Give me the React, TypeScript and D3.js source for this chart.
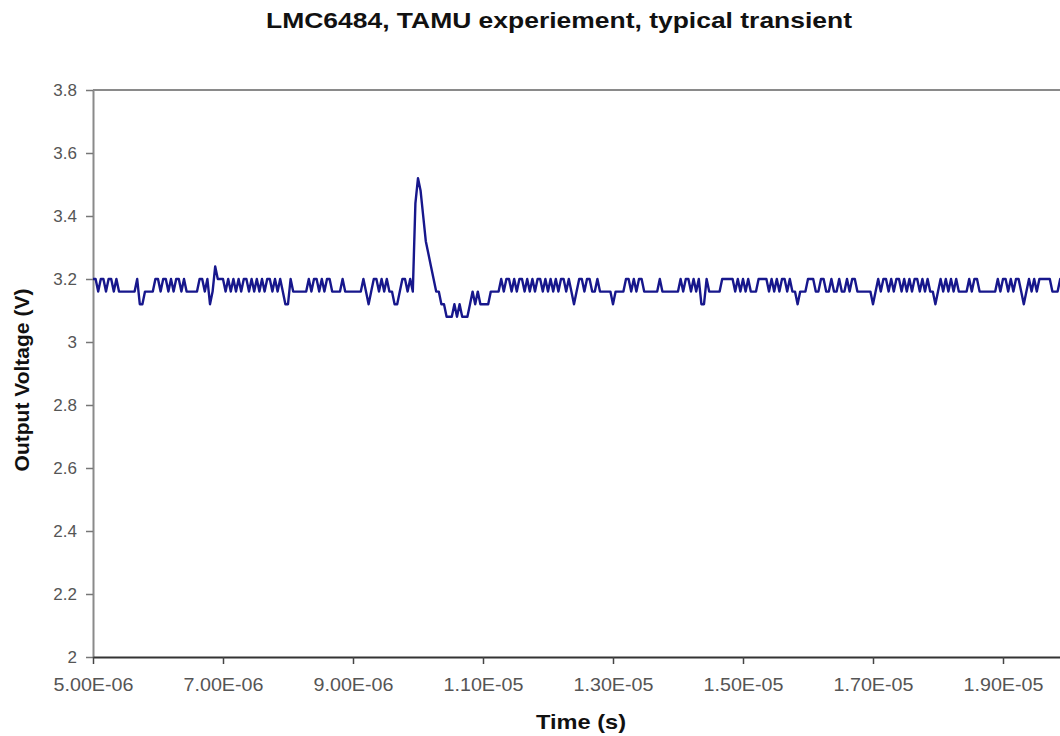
import React, { useEffect, useRef } from 'react';
import * as d3 from 'd3';

// Scope trace, one character per sample, 0.04 us apart,
// starting at 5.00E-06 s. Each character is an ADC step of 0.04 V above 3.08 V
// ('0' = 3.08 V, '2' = 3.16 V, '4' = 3.24 V ... 'b' = 3.52 V at the spike top).
const traceStart = 5e-6;
const sampleStep = 4e-8;
const levelBase = 3.08;
const levelStep = 0.04;

// one string per 2 us of the time axis
const traceSegments: string[] = [
  '33233233232222222311222233233232332322222332312433', // 5.0 - 7.0 us
  '32323232332323232332323211322222232332323322223222', // 7.0 - 9.0 us
  '2222321233232322112332329ba86543221100010100012121', // 9.0 - 11.0 us (transient)
  '11122223233232332323233232323233232123323322322222', // 11.0 - 13.0 us
  '12222332323322222232222222323323231132222233333232', // 13.0 - 15.0 us
  '32322233332323233232212223332233223223223233222222', // 15.0 - 17.0 us
  '12323323233232323323232212323232322223233222222232', // 17.0 - 19.0 us
  '3323233212323233333222332', // 19.0 us - edge
];

const xTicks = [5e-6, 7e-6, 9e-6, 1.1e-5, 1.3e-5, 1.5e-5, 1.7e-5, 1.9e-5];
const xTickLabels = ['5.00E-06', '7.00E-06', '9.00E-06', '1.10E-05', '1.30E-05', '1.50E-05', '1.70E-05', '1.90E-05'];
const yTicks = [2, 2.2, 2.4, 2.6, 2.8, 3, 3.2, 3.4, 3.6, 3.8];
const yTickLabels = ['2', '2.2', '2.4', '2.6', '2.8', '3', '3.2', '3.4', '3.6', '3.8'];

type Sample = { t: number; v: number };

const FONT = 'Liberation Sans, Arial, Helvetica, sans-serif';

const TransientChart: React.FC = () => {
  const svgRef = useRef<SVGSVGElement | null>(null);

  useEffect(() => {
    const svg = d3.select(svgRef.current);
    svg.selectAll('*').remove();

    const samples: Sample[] = traceSegments
      .join('')
      .split('')
      .map((c, i) => ({ t: traceStart + i * sampleStep, v: levelBase + parseInt(c, 16) * levelStep }));

    // plot area: left edge 93, right edge runs past the picture
    const x = d3.scaleLinear().domain([5e-6, 2e-5]).range([93, 1068]);
    const y = d3.scaleLinear().domain([2, 3.8]).range([657, 90]);

    svg.append('rect').attr('width', 1060).attr('height', 736).attr('fill', '#fff');

    // top frame line
    svg.append('line')
      .attr('x1', 93).attr('x2', 1068)
      .attr('y1', y(3.8)).attr('y2', y(3.8))
      .attr('stroke', '#8a8a8a')
      .attr('stroke-width', 2);

    // y axis
    const yAxis = svg.append('g')
      .attr('transform', 'translate(93,0)')
      .call(
        d3.axisLeft(y)
          .tickValues(yTicks)
          .tickFormat((_d, i) => yTickLabels[i])
          .tickSize(7)
          .tickSizeOuter(0)
          .tickPadding(9)
      );
    yAxis.select('.domain').attr('stroke', '#8a8a8a').attr('stroke-width', 2);
    yAxis.selectAll('.tick line').attr('stroke', '#777').attr('stroke-width', 1.5);
    yAxis.selectAll('.tick text')
      .attr('font-family', FONT)
      .attr('font-size', 17)
      .attr('fill', '#555');

    // x axis
    const xAxis = svg.append('g')
      .attr('transform', `translate(0,${y(2)})`)
      .call(
        d3.axisBottom(x)
          .tickValues(xTicks)
          .tickFormat((_d, i) => xTickLabels[i])
          .tickSize(7)
          .tickSizeOuter(0)
          .tickPadding(14)
      );
    xAxis.select('.domain').attr('stroke', '#333').attr('stroke-width', 2);
    xAxis.selectAll('.tick line').attr('stroke', '#444').attr('stroke-width', 1.5);
    xAxis.selectAll('.tick text')
      .attr('font-family', FONT)
      .attr('font-size', 18)
      .attr('fill', '#555')
      .attr('textLength', 80)
      .attr('lengthAdjust', 'spacingAndGlyphs');

    // the trace
    const line = d3.line<Sample>()
      .x(d => x(d.t))
      .y(d => y(d.v));

    svg.append('path')
      .datum(samples)
      .attr('d', line)
      .attr('fill', 'none')
      .attr('stroke', '#17178c')
      .attr('stroke-width', 2.4)
      .attr('stroke-linejoin', 'round');

    // title
    svg.append('text')
      .attr('x', 559)
      .attr('y', 28)
      .attr('text-anchor', 'middle')
      .attr('font-family', FONT)
      .attr('font-weight', 'bold')
      .attr('font-size', 22)
      .attr('fill', '#111')
      .attr('textLength', 586)
      .attr('lengthAdjust', 'spacingAndGlyphs')
      .text('LMC6484, TAMU experiement, typical transient');

    // x axis title
    svg.append('text')
      .attr('x', 581)
      .attr('y', 729)
      .attr('text-anchor', 'middle')
      .attr('font-family', FONT)
      .attr('font-weight', 'bold')
      .attr('font-size', 21)
      .attr('fill', '#111')
      .attr('textLength', 90)
      .attr('lengthAdjust', 'spacingAndGlyphs')
      .text('Time (s)');

    // y axis title
    svg.append('text')
      .attr('transform', 'rotate(-90)')
      .attr('x', -380)
      .attr('y', 29)
      .attr('text-anchor', 'middle')
      .attr('font-family', FONT)
      .attr('font-weight', 'bold')
      .attr('font-size', 21)
      .attr('fill', '#111')
      .text('Output Voltage (V)');
  }, []);

  return (
    <svg
      ref={svgRef}
      width={1060}
      height={736}
      style={{ position: 'absolute', left: 0, top: 0, display: 'block' }}
    />
  );
};

export default function App() {
  return <TransientChart />;
}
